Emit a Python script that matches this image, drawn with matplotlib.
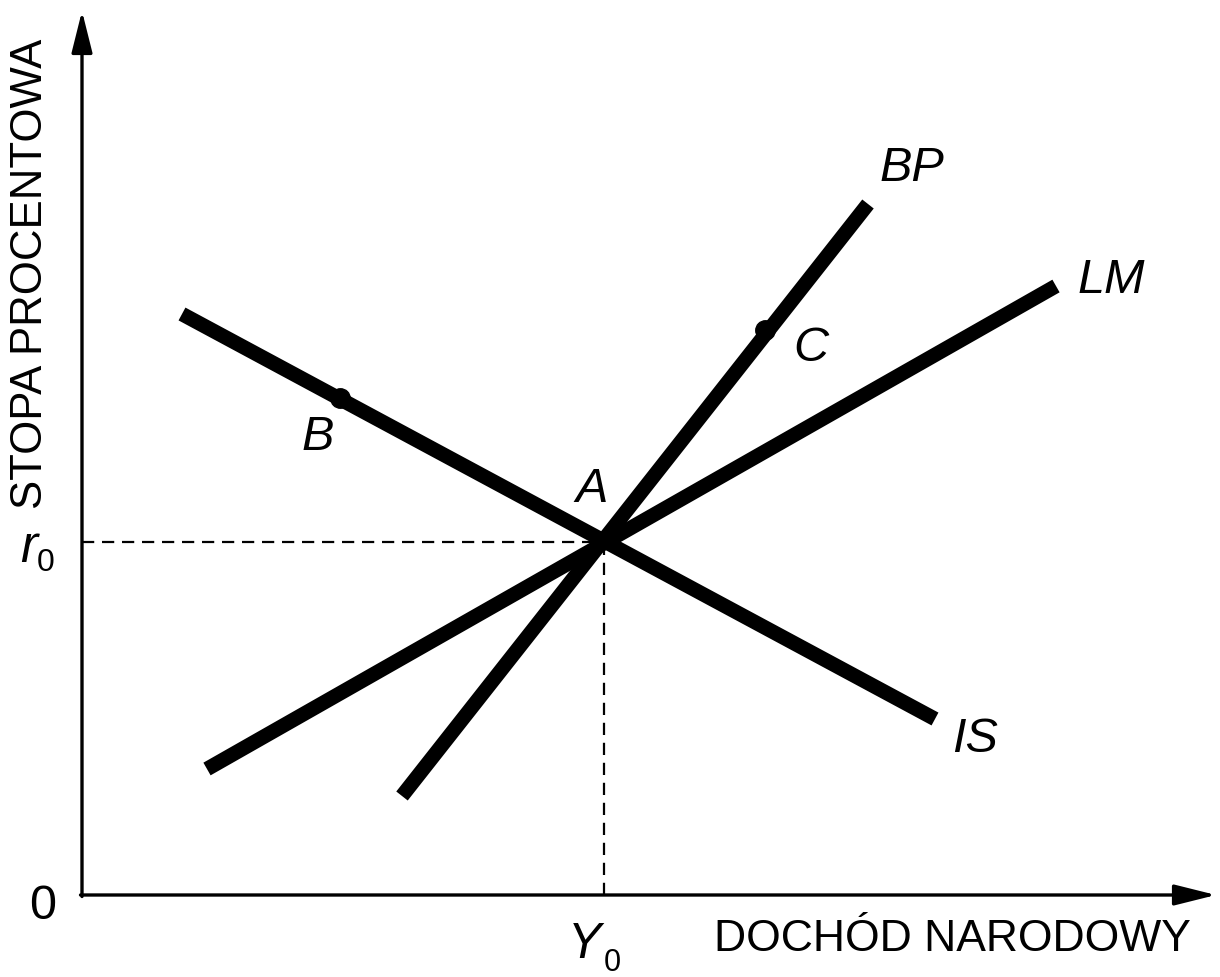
import matplotlib.pyplot as plt

# model curves: (x_start, x_end), (y_start, y_end) in income / interest units
curve_names = ["IS", "LM", "BP"]
curve_x = [[100, 853], [125, 974], [320, 786]]
curve_y = [[581, 176], [126, 609], [99, 691]]

# equilibrium A and extra points
eq_x, eq_y = 522, 353
dot_names = ["B", "C"]
dot_x = [258, 683]
dot_y = [497, 565]

# curve / point labels
label_text = ["BP", "LM", "IS", "A", "B", "C"]
label_x = [830, 1029, 893, 510, 236, 729]
label_y = [727, 615, 156, 406, 458, 547]

plt.rcParams['font.family'] = ['Liberation Sans', 'DejaVu Sans']

fig = plt.figure(figsize=(12.2, 9.78), dpi=100)
ax = fig.add_axes([0, 0, 1, 1])
ax.set_xlim(-82, 1138)
ax.set_ylim(-82, 896)
ax.axis('off')

# axes with arrows
arrow = dict(arrowstyle='-|>,head_length=0.8,head_width=0.2', lw=2.4, color='black',
             mutation_scale=32, shrinkA=0, shrinkB=0)
ax.annotate('', xy=(1134, 0), xytext=(-1.5, 0), arrowprops=arrow)
ax.annotate('', xy=(0, 884), xytext=(0, -1.5), arrowprops=arrow)

# dashed guides
ax.plot([0, eq_x], [eq_y, eq_y], color='black', lw=1.6, ls=(0, (5.5, 3.5)))
ax.plot([eq_x, eq_x], [0, eq_y], color='black', lw=1.6, ls=(0, (5.5, 3.5)))

for name, xs, ys in zip(curve_names, curve_x, curve_y):
    ax.plot(xs, ys, color='black', lw=10.5, solid_capstyle='butt')

ax.plot(dot_x, dot_y, 'o', color='black', ms=14)

for t, x, y in zip(label_text, label_x, label_y):
    ax.text(x, y, t, fontsize=35, style='italic', ha='center', va='center')

ax.text(-53, 347, 'r', fontsize=37, style='italic', ha='center', va='center')
ax.text(-36, 333, '0', fontsize=23, ha='center', va='center')
ax.text(-39, -11, '0', fontsize=35, ha='center', va='center')
ax.text(502, -49, 'Y', fontsize=36, style='italic', ha='center', va='center')
ax.text(530, -67, '0', fontsize=22, ha='center', va='center')
ax.text(870, -44, 'DOCHÓD NARODOWY', fontsize=32, ha='center', va='center')
ax.text(-51, 622, 'STOPA PROCENTOWA', fontsize=31.5, rotation=90, ha='center', va='center')

fig.savefig('out.png', dpi=100)
